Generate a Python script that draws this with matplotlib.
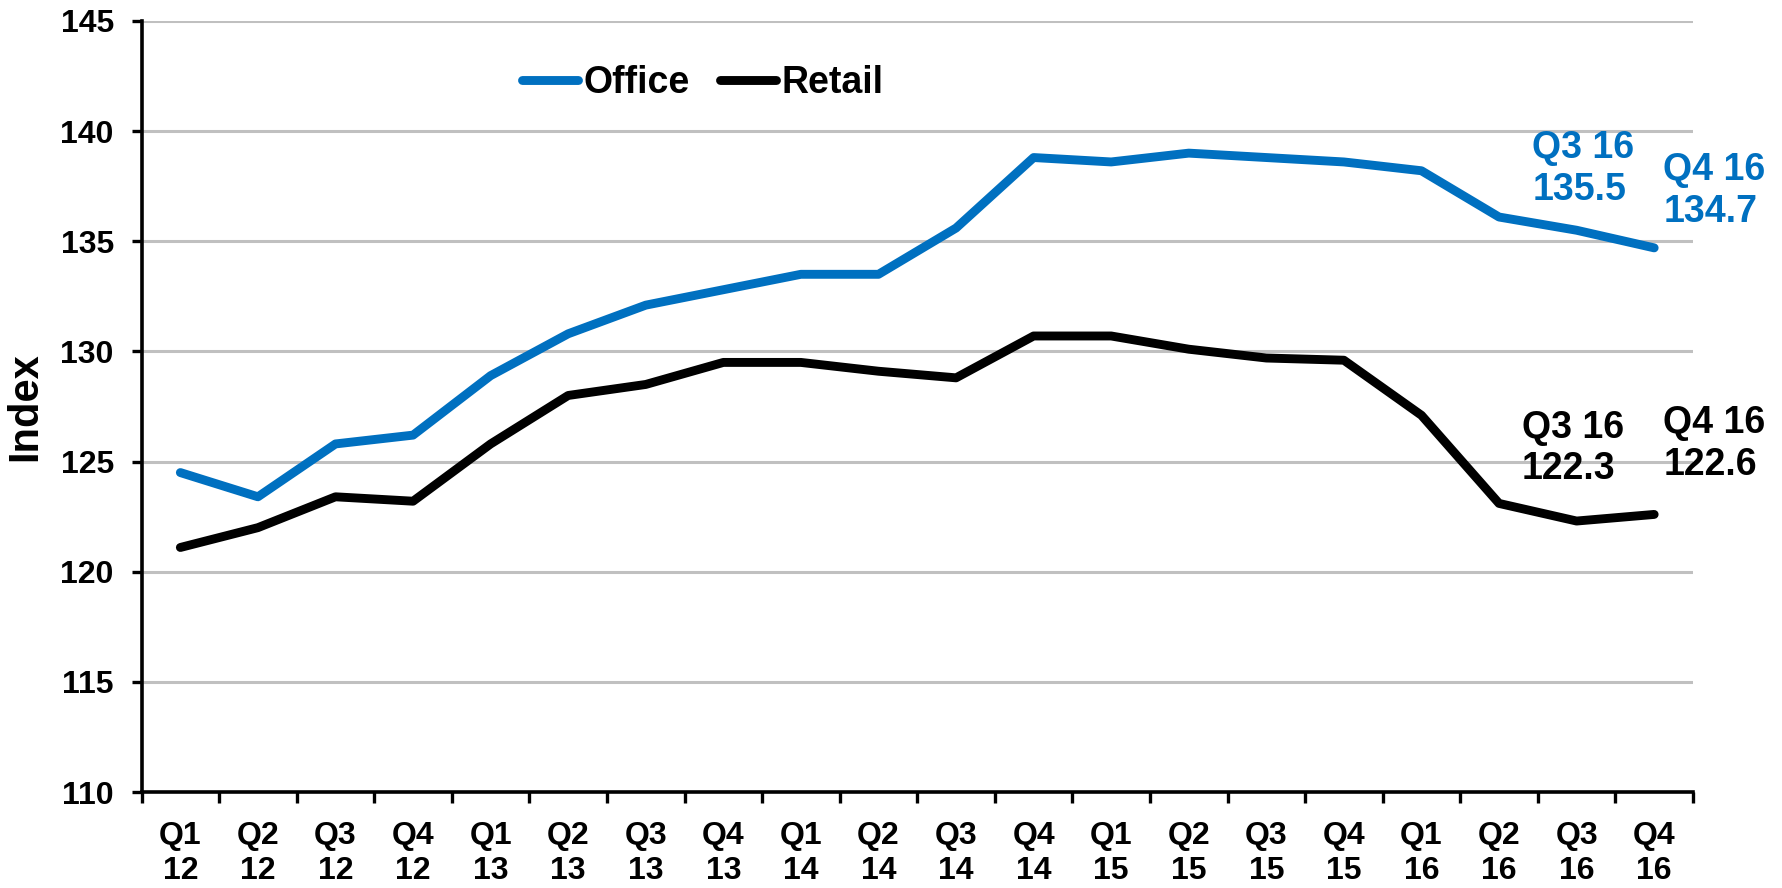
import matplotlib
matplotlib.use("Agg")
import matplotlib.pyplot as plt
from matplotlib.ticker import FixedLocator, NullFormatter

quarters = ["Q1\n12", "Q2\n12", "Q3\n12", "Q4\n12",
            "Q1\n13", "Q2\n13", "Q3\n13", "Q4\n13",
            "Q1\n14", "Q2\n14", "Q3\n14", "Q4\n14",
            "Q1\n15", "Q2\n15", "Q3\n15", "Q4\n15",
            "Q1\n16", "Q2\n16", "Q3\n16", "Q4\n16"]
office = [124.5, 123.4, 125.8, 126.2, 128.9, 130.8, 132.1, 132.8, 133.5, 133.5,
          135.6, 138.8, 138.6, 139.0, 138.8, 138.6, 138.2, 136.1, 135.5, 134.7]
retail = [121.1, 122.0, 123.4, 123.2, 125.8, 128.0, 128.5, 129.5, 129.5, 129.1,
          128.8, 130.7, 130.7, 130.1, 129.7, 129.6, 127.1, 123.1, 122.3, 122.6]
y_ticks = [110, 115, 120, 125, 130, 135, 140, 145]

BLUE = "#0070C0"
FONT = "Liberation Sans"
plt.rcParams["font.family"] = [FONT, "DejaVu Sans"]
plt.rcParams["font.weight"] = "bold"

fig = plt.figure(figsize=(17.83, 8.88), dpi=100)
ax = fig.add_axes([0.0794, 0.1081, 0.8701, 0.8683])

x = list(range(len(quarters)))
ax.plot(x, office, color=BLUE, lw=6.4, solid_capstyle="round", solid_joinstyle="round",
        label="Office", zorder=3)
ax.plot(x, retail, color="black", lw=6.4, solid_capstyle="round", solid_joinstyle="round",
        label="Retail", zorder=3)

ax.set_xlim(-0.5, len(quarters) - 0.5)
ax.set_ylim(110, 145)
ax.set_yticks(y_ticks)
ax.set_yticklabels([str(v) for v in y_ticks], fontsize=23, fontweight="bold")
ax.yaxis.grid(True, color="#C0C0C0", lw=2.2)
ax.set_axisbelow(True)

# major ticks at category boundaries, labels at centres
ax.xaxis.set_major_locator(FixedLocator([i - 0.5 for i in range(len(quarters) + 1)]))
ax.xaxis.set_major_formatter(NullFormatter())
ax.xaxis.set_minor_locator(FixedLocator(x))
ax.set_xticklabels(quarters, minor=True, fontsize=23, fontweight="bold", linespacing=1.2)
ax.tick_params(axis="x", which="major", length=8, width=2.4, direction="out")
ax.tick_params(axis="x", which="minor", length=0, pad=21)
ax.tick_params(axis="y", length=7, width=2.4, direction="out", pad=13)

for s in ["top", "right"]:
    ax.spines[s].set_visible(False)
for s in ["left", "bottom"]:
    ax.spines[s].set_linewidth(2.6)
    ax.spines[s].set_color("black")

ax.set_ylabel("Index", fontsize=30, fontweight="bold", labelpad=11)

leg = ax.legend(loc="center left", bbox_to_anchor=(0.245, 0.9196), ncol=2, frameon=False,
                borderaxespad=0, borderpad=0, handlelength=1.5, handletextpad=0.15,
                columnspacing=0.8, prop={"family": FONT, "weight": "bold", "size": 27})
for h in leg.get_lines():
    h.set_linewidth(6.4)

ann_kw = dict(fontsize=27, fontweight="bold", ha="left", va="top", linespacing=1.2)
ax.text(17.43, 140.05, "Q3 16\n135.5", color=BLUE, **ann_kw)
ax.text(19.12, 139.05, "Q4 16\n134.7", color=BLUE, **ann_kw)
ax.text(17.29, 127.35, "Q3 16\n122.3", color="black", **ann_kw)
ax.text(19.12, 127.55, "Q4 16\n122.6", color="black", **ann_kw)

fig.savefig("out.png", dpi=100)
